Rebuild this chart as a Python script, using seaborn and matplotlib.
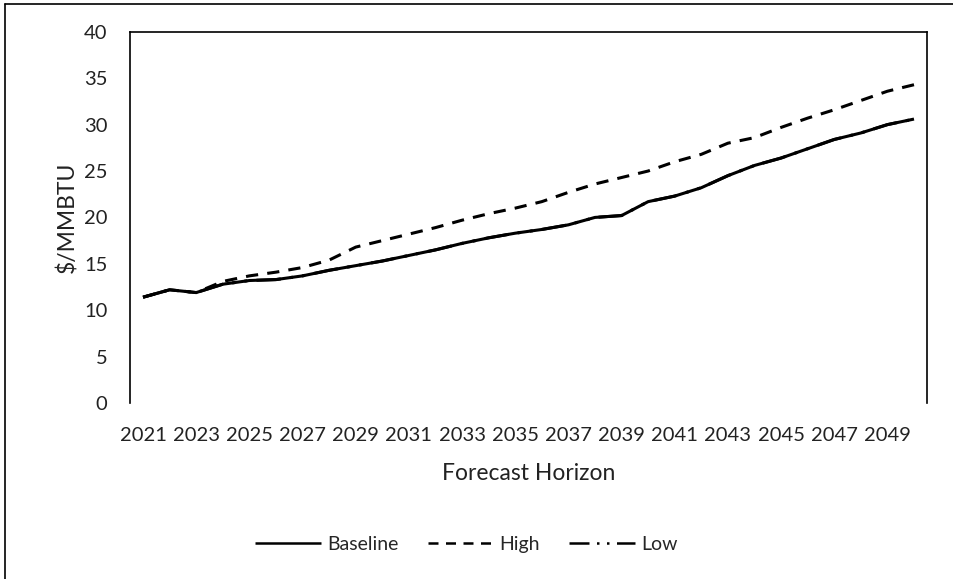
import numpy as np
import pandas as pd
import matplotlib
matplotlib.use("Agg")
import matplotlib.pyplot as plt
import seaborn as sns
from matplotlib.lines import Line2D

# forecast years and price series ($/MMBTU)
years = list(range(2021, 2051))
baseline = [11.4, 12.2, 11.9, 12.8, 13.2, 13.3, 13.7, 14.3, 14.8, 15.3,
            15.9, 16.5, 17.2, 17.8, 18.3, 18.7, 19.2, 20.0, 20.2, 21.7,
            22.3, 23.2, 24.5, 25.6, 26.4, 27.4, 28.4, 29.1, 30.0, 30.6]
high = [11.4, 12.2, 11.9, 13.1, 13.7, 14.1, 14.6, 15.4, 16.8, 17.5,
        18.2, 18.9, 19.7, 20.4, 21.0, 21.7, 22.7, 23.6, 24.3, 25.0,
        26.0, 26.8, 28.0, 28.6, 29.7, 30.7, 31.6, 32.6, 33.6, 34.3]
low = list(baseline)  # low case sits on top of the baseline
tick_years = list(range(2021, 2050, 2))

df = pd.DataFrame({"Year": years * 3,
                   "Price": baseline + high + low,
                   "Case": ["Baseline"] * 30 + ["High"] * 30 + ["Low"] * 30})

sns.set_style("white")
plt.rcParams['font.family'] = ['Lato', 'DejaVu Sans']

fig = plt.figure(figsize=(9.54, 5.79), dpi=100)
ax = fig.add_axes([0.136, 0.304, 0.836, 0.641])

styles = {"Baseline": (0, ()), "High": (0, (4, 3)), "Low": (0, (8, 3, 1, 3, 1, 3))}
for case in ["Baseline", "High", "Low"]:
    sub = df[df["Case"] == case]
    sns.lineplot(data=sub, x="Year", y="Price", ax=ax, color="black",
                 linewidth=2.2, linestyle=styles[case], label=case, legend=False)

ax.set_xlim(2020.5, 2050.5)
ax.set_ylim(0, 40)
ax.set_yticks(range(0, 41, 5))
ax.set_xticks(tick_years)
ax.set_xticklabels([str(y) for y in tick_years])
ax.tick_params(axis="both", length=0, labelsize=14.5, colors="#222222")
ax.tick_params(axis="x", pad=17)
ax.tick_params(axis="y", pad=16)
ax.set_xlabel("Forecast Horizon", fontsize=16.5, labelpad=14, color="#222222")
ax.set_ylabel("$/MMBTU", fontsize=16.5, labelpad=4, color="#222222")

for side in ["left", "top", "right"]:
    ax.spines[side].set_visible(True)
    ax.spines[side].set_color("black")
    ax.spines[side].set_linewidth(1.2)
ax.spines["bottom"].set_visible(False)

handles = [Line2D([], [], color="black", lw=1.8, linestyle=styles[c]) for c in ["Baseline", "High", "Low"]]
fig.legend(handles, ["Baseline", "High", "Low"], loc="center", bbox_to_anchor=(0.489, 0.06),
           ncol=3, frameon=False, fontsize=14, handlelength=3.4, columnspacing=1.5, handletextpad=0.3)

# outer chart frame (left and top edges visible in the scan)
fig.add_artist(Line2D([0.005, 0.005], [0.0, 0.993], transform=fig.transFigure, color="black", lw=1.2))
fig.add_artist(Line2D([0.005, 1.0], [0.993, 0.993], transform=fig.transFigure, color="black", lw=1.2))

fig.savefig("out.png", dpi=100)
